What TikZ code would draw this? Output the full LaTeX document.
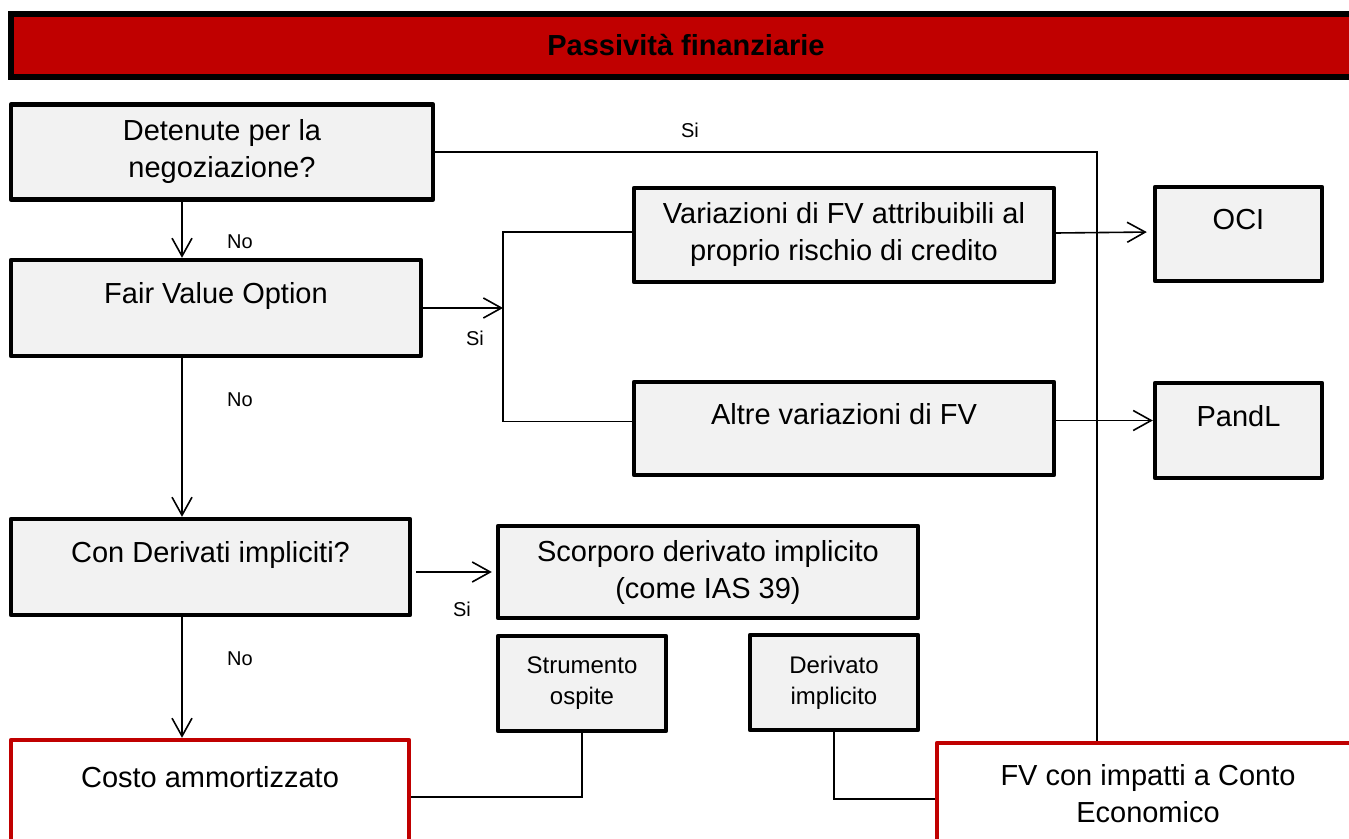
\documentclass[tikz,border=0pt]{standalone}
\usepackage{fontspec}
\setmainfont{Liberation Sans}
\usetikzlibrary{arrows.meta}
\definecolor{boxred}{HTML}{C00000}
\definecolor{boxgrey}{HTML}{F2F2F2}

\begin{document}
\begin{tikzpicture}[
  x=0.5pt, y=-0.5pt,
  box/.style={rectangle, draw, fill=boxgrey, line width=2.2pt, line join=round, align=center, minimum width=210pt, minimum height=47.5pt, font=\fontsize{14.5}{18.5}\selectfont},
  small/.style={box, minimum width=84pt, font=\fontsize{12}{15.5}\selectfont},
  uptext/.style={text height=10.5pt, text depth=14.6pt},
  result/.style={box, draw=boxred, fill=white},
  heading/.style={rectangle, draw, fill=boxred, line width=2.6pt, minimum width=675pt, minimum height=31.5pt, font=\fontsize{14.5}{18}\selectfont\bfseries},
  lbl/.style={font=\fontsize{10}{12}\selectfont},
  line/.style={line width=0.8pt},
  arrow/.style={line, -{Straight Barb[length=9pt, width=10pt]}}
]
\path[use as bounding box] (0,0) rectangle (1349,839);
\clip (0,0) rectangle (1349,839);

\node[heading] (title) at (686,45.5) {Passività finanziarie};
\node[box, minimum width=211pt] (det) at (222,152) {Detenute per la\\negoziazione?};
\node[box, uptext, minimum width=205pt, minimum height=48pt] (fvo) at (216,308) {Fair Value Option};
\node[box, uptext, minimum width=199.5pt, minimum height=48pt] (cde) at (210.5,567) {Con Derivati impliciti?};
\node[result, uptext, minimum width=199pt, minimum height=52pt] (costo) at (210,792) {Costo ammortizzato};
\node[box, minimum height=47pt] (var) at (844,235) {Variazioni di FV attribuibili al\\proprio rischio di credito};
\node[box, uptext, minimum height=46.5pt] (altre) at (844,428.5) {Altre variazioni di FV};
\node[box, uptext, minimum width=83.5pt, minimum height=47pt] (oci) at (1238.5,234) {OCI};
\node[box, uptext, minimum width=83.5pt] (pandl) at (1238.5,430.5) {PandL};
\node[box, minimum height=46pt] (scorp) at (708,572) {Scorporo derivato implicito\\(come IAS 39)};
\node[small] (ospite) at (582,683.5) {Strumento\\ospite};
\node[small] (deriv) at (834,682.5) {Derivato\\implicito};
\node[result, minimum width=211pt, minimum height=51pt] (fv) at (1148,794) {FV con impatti a Conto\\Economico};

\coordinate (spine) at (182,0);
\coordinate (split) at (503,308);
\coordinate (drop) at (1097,152);

\draw[arrow] (det.south -| spine) -- (fvo.north -| spine);
\draw[arrow] (fvo.south -| spine) -- (cde.north -| spine);
\draw[arrow] (cde.south -| spine) -- (costo.north -| spine);
\draw[line] (det.east) -- (drop) -- (drop |- fv.north);
\draw[arrow] (fvo.east) -- (split);
\draw[line] ([yshift=1.5pt]var.west) -| (split) |- ([yshift=3.5pt]altre.west);
\draw[arrow, shorten >=3pt] ([yshift=1pt]var.east) -- ([yshift=1pt]oci.west);
\draw[arrow] ([yshift=4pt]altre.east) -- ([yshift=4pt]altre.east -| pandl.west);
\draw[arrow, shorten <=2pt, shorten >=2pt] (scorp.west -| cde.east) -- (scorp.west);
\draw[line] (ospite.south) |- ([yshift=-2.5pt]costo.east);
\draw[line] (deriv.south) |- ([yshift=-2.5pt]fv.west);

\node[lbl] (si1) at (690,130) {Si};
\node[lbl] (no1) at (240,242) {No};
\node[lbl] (si2) at (475,338) {Si};
\node[lbl] (no2) at (240,400) {No};
\node[lbl] (si3) at (462,609) {Si};
\node[lbl] (no3) at (240,659) {No};
\end{tikzpicture}
\end{document}
